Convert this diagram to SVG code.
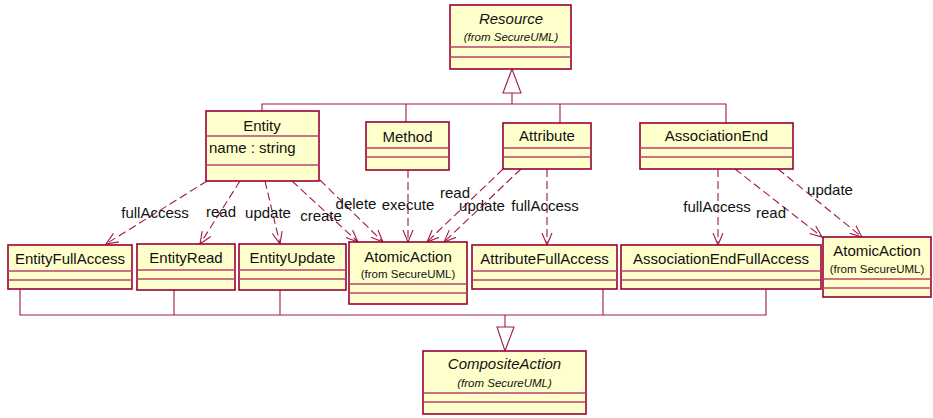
<svg xmlns="http://www.w3.org/2000/svg" width="933" height="418" viewBox="0 0 933 418">
<style>
.box{fill:#ffffcc;stroke:#990033;stroke-width:1.6}
.sep{stroke:#c04070;stroke-width:1.4}
.t{font-family:"Liberation Sans",Arial,sans-serif;font-size:15px;fill:#111;text-anchor:middle}
.ti{font-family:"Liberation Sans",Arial,sans-serif;font-size:15px;fill:#111;text-anchor:middle;font-style:italic}
.s{font-family:"Liberation Sans",Arial,sans-serif;font-size:11.5px;fill:#111;text-anchor:middle}
.si{font-family:"Liberation Sans",Arial,sans-serif;font-size:11.5px;fill:#111;text-anchor:middle;font-style:italic}
.a{font-family:"Liberation Sans",Arial,sans-serif;font-size:15px;fill:#111;text-anchor:middle}
.ln{fill:none;stroke:#a01848;stroke-width:1.1}
.dep{fill:none;stroke:#a01848;stroke-width:1.1;stroke-dasharray:8 4;marker-end:url(#open)}
.gen{fill:#fff;stroke:#a01848;stroke-width:1.1}
</style>
<defs>
<marker id="open" markerUnits="userSpaceOnUse" markerWidth="14" markerHeight="12" refX="12" refY="5.5" orient="auto" viewBox="0 0 14 12">
<path d="M0,0.5 L12,5.5 L0,10.5" fill="none" stroke="#a01848" stroke-width="1.1"/>
</marker>
</defs>
<g id="connectors">
<!-- generalization to Resource -->
<polyline class="ln" points="262,111 262,104 726,104 726,123"/>
<line class="ln" x1="406" y1="104" x2="406" y2="122"/>
<line class="ln" x1="560" y1="104" x2="560" y2="123"/>
<line class="ln" x1="512" y1="104" x2="512" y2="93"/>
<polygon class="gen" points="512,69 503,93 521,93"/>
<!-- generalization to CompositeAction -->
<polyline class="ln" points="20,289 20,315 766,315 766,289"/>
<line class="ln" x1="174" y1="290" x2="174" y2="315"/>
<line class="ln" x1="280" y1="290" x2="280" y2="315"/>
<line class="ln" x1="603" y1="289" x2="603" y2="315"/>
<line class="ln" x1="505" y1="315" x2="505" y2="327"/>
<polygon class="gen" points="505,351 497,327 514,327"/>
<!-- dependencies -->
<path class="dep" d="M207,181 L106,244"/>
<path class="dep" d="M240,181 L200,244"/>
<path class="dep" d="M265,181 L280,244"/>
<path class="dep" d="M292,181 L358,242"/>
<path class="dep" d="M320,180 L383,242"/>
<path class="dep" d="M408,170 L408,242"/>
<path class="dep" d="M503,169 L427,242"/>
<path class="dep" d="M521,169 L444,242"/>
<path class="dep" d="M547,169 L547,245"/>
<path class="dep" d="M718,169 L718,245"/>
<path class="dep" d="M735,169 L822,237"/>
<path class="dep" d="M778,169 L862,237"/>
<text class="a" x="155" y="218">fullAccess</text>
<text class="a" x="221" y="217">read</text>
<text class="a" x="268" y="218">update</text>
<text class="a" x="321" y="221">create</text>
<text class="a" x="356" y="209">delete</text>
<text class="a" x="408" y="210">execute</text>
<text class="a" x="455" y="198">read</text>
<text class="a" x="482" y="211">update</text>
<text class="a" x="545" y="211">fullAccess</text>
<text class="a" x="717" y="212">fullAccess</text>
<text class="a" x="771" y="218">read</text>
<text class="a" x="830" y="195">update</text>
</g>
<g id="Resource">
<rect class="box" x="450" y="5" width="121" height="64"/>
<line class="sep" x1="450" y1="47" x2="571" y2="47"/>
<line class="sep" x1="450" y1="57" x2="571" y2="57"/>
<text class="ti" x="511" y="24">Resource</text>
<text class="si" x="511" y="41">(from SecureUML)</text>
</g>
<g id="Entity">
<rect class="box" x="206" y="111" width="113" height="70"/>
<line class="sep" x1="206" y1="136" x2="319" y2="136"/>
<line class="sep" x1="206" y1="165" x2="319" y2="165"/>
<text class="t" x="262" y="131">Entity</text>
<text class="t" x="209" y="153" style="text-anchor:start">name : string</text>
</g>
<g id="Method">
<rect class="box" x="366" y="122" width="83" height="48"/>
<line class="sep" x1="366" y1="148" x2="449" y2="148"/>
<line class="sep" x1="366" y1="157" x2="449" y2="157"/>
<text class="t" x="407.5" y="142">Method</text>
</g>
<g id="Attribute">
<rect class="box" x="503" y="123" width="88" height="46"/>
<line class="sep" x1="503" y1="148" x2="591" y2="148"/>
<line class="sep" x1="503" y1="157" x2="591" y2="157"/>
<text class="t" x="547" y="141">Attribute</text>
</g>
<g id="AssociationEnd">
<rect class="box" x="640" y="123" width="153" height="46"/>
<line class="sep" x1="640" y1="148" x2="793" y2="148"/>
<line class="sep" x1="640" y1="157" x2="793" y2="157"/>
<text class="t" x="716.5" y="141">AssociationEnd</text>
</g>
<g id="EntityFullAccess">
<rect class="box" x="8" y="245" width="124" height="44"/>
<line class="sep" x1="8" y1="271" x2="132" y2="271"/>
<line class="sep" x1="8" y1="280" x2="132" y2="280"/>
<text class="t" x="70" y="264">EntityFullAccess</text>
</g>
<g id="EntityRead">
<rect class="box" x="137" y="244" width="98" height="46"/>
<line class="sep" x1="137" y1="270" x2="235" y2="270"/>
<line class="sep" x1="137" y1="279" x2="235" y2="279"/>
<text class="t" x="186" y="263">EntityRead</text>
</g>
<g id="EntityUpdate">
<rect class="box" x="239" y="244" width="107" height="46"/>
<line class="sep" x1="239" y1="270" x2="346" y2="270"/>
<line class="sep" x1="239" y1="279" x2="346" y2="279"/>
<text class="t" x="292.5" y="263">EntityUpdate</text>
</g>
<g id="AtomicAction1">
<rect class="box" x="349" y="242" width="118" height="62"/>
<line class="sep" x1="349" y1="284" x2="467" y2="284"/>
<line class="sep" x1="349" y1="293" x2="467" y2="293"/>
<text class="t" x="408" y="262">AtomicAction</text>
<text class="s" x="408" y="278">(from SecureUML)</text>
</g>
<g id="AttributeFullAccess">
<rect class="box" x="472" y="245" width="145" height="44"/>
<line class="sep" x1="472" y1="271" x2="617" y2="271"/>
<line class="sep" x1="472" y1="280" x2="617" y2="280"/>
<text class="t" x="544.5" y="264">AttributeFullAccess</text>
</g>
<g id="AssociationEndFullAccess">
<rect class="box" x="621" y="245" width="200" height="44"/>
<line class="sep" x1="621" y1="271" x2="821" y2="271"/>
<line class="sep" x1="621" y1="280" x2="821" y2="280"/>
<text class="t" x="721" y="264">AssociationEndFullAccess</text>
</g>
<g id="AtomicAction2">
<rect class="box" x="823" y="237" width="108" height="60"/>
<line class="sep" x1="823" y1="279" x2="931" y2="279"/>
<line class="sep" x1="823" y1="288" x2="931" y2="288"/>
<text class="t" x="877" y="256">AtomicAction</text>
<text class="s" x="877" y="273">(from SecureUML)</text>
</g>
<g id="CompositeAction">
<rect class="box" x="423" y="351" width="163" height="63"/>
<line class="sep" x1="423" y1="393" x2="586" y2="393"/>
<line class="sep" x1="423" y1="402" x2="586" y2="402"/>
<text class="ti" x="504.5" y="369">CompositeAction</text>
<text class="si" x="504.5" y="387">(from SecureUML)</text>
</g>
</svg>
